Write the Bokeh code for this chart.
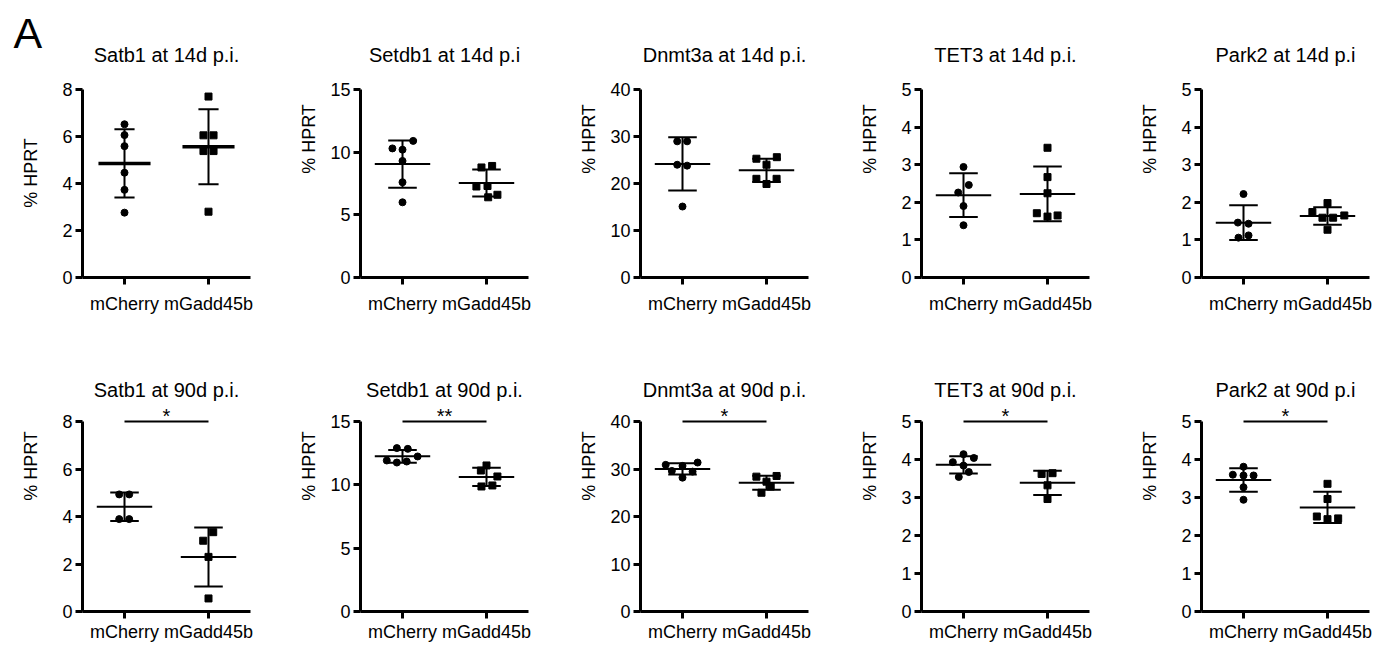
import numpy as np
from bokeh.plotting import figure
from bokeh.layouts import row, column
from bokeh.models import Range1d, FixedTicker, Label
from bokeh.embed import file_html
from bokeh.resources import INLINE

FONT = "Liberation Sans"

groups = ["mCherry", "mGadd45b"]

titles_14d = ["Satb1 at 14d p.i.", "Setdb1 at 14d p.i", "Dnmt3a at 14d p.i.", "TET3 at 14d p.i.", "Park2 at 14d p.i"]
titles_90d = ["Satb1 at 90d p.i.", "Setdb1 at 90d p.i.", "Dnmt3a at 90d p.i.", "TET3 at 90d p.i.", "Park2 at 90d p.i"]
y_max = [8, 15, 40, 5, 5]
y_step = [2, 5, 10, 1, 1]
stars_90d = ["*", "**", "*", "*", "*"]

# ---- 14 d p.i. (values, % HPRT) ----
satb1_14d_mcherry = [6.52, 6.06, 5.59, 4.46, 3.73, 2.76]
satb1_14d_gadd = [7.70, 6.05, 6.05, 5.38, 5.38, 2.80]
setdb1_14d_mcherry = [10.9, 10.3, 10.2, 9.3, 7.6, 6.0]
setdb1_14d_gadd = [8.78, 8.90, 7.26, 7.30, 6.40, 6.60]
dnmt3a_14d_mcherry = [28.97, 28.97, 23.99, 23.80, 15.10]
dnmt3a_14d_gadd = [25.27, 25.60, 24.00, 21.00, 21.00, 19.90]
tet3_14d_mcherry = [2.94, 2.46, 2.26, 1.90, 1.39]
tet3_14d_gadd = [3.45, 2.67, 2.24, 1.71, 1.62, 1.65]
park2_14d_mcherry = [2.22, 1.46, 1.43, 1.06, 1.12]
park2_14d_gadd = [1.98, 1.74, 1.59, 1.59, 1.65, 1.27]

# ---- 90 d p.i. (values, % HPRT) ----
satb1_90d_mcherry = [4.93, 4.93, 3.89, 3.89]
satb1_90d_gadd = [3.34, 2.98, 2.30, 0.55]
setdb1_90d_mcherry = [12.90, 12.84, 11.92, 11.76, 11.84, 12.24]
setdb1_90d_gadd = [11.53, 11.13, 10.66, 9.87, 9.95]
dnmt3a_90d_mcherry = [30.87, 30.65, 31.36, 29.60, 29.45, 28.18]
dnmt3a_90d_gadd = [28.39, 28.53, 27.33, 26.30, 25.00]
tet3_90d_mcherry = [4.14, 3.93, 4.04, 3.84, 3.67, 3.54]
tet3_90d_gadd = [3.62, 3.64, 3.32, 2.96]
park2_90d_mcherry = [3.81, 3.60, 3.58, 3.58, 3.27, 2.94]
park2_90d_gadd = [3.36, 2.96, 2.50, 2.43, 2.45]

# ---- horizontal scatter jitter (in group units) ----
satb1_14d_mcherry_dx = [0, 0, 0, 0, 0, 0]
satb1_14d_gadd_dx = [0, -0.06, 0.06, -0.06, 0.06, 0]
setdb1_14d_mcherry_dx = [0.127, -0.12, 0, 0, 0, 0]
setdb1_14d_gadd_dx = [-0.06, 0.067, -0.12, 0.012, 0.02, 0.13]
dnmt3a_14d_mcherry_dx = [-0.063, 0.055, -0.063, 0.055, 0]
dnmt3a_14d_gadd_dx = [-0.12, 0.123, 0, -0.12, 0.12, 0]
tet3_14d_mcherry_dx = [0, 0.063, -0.063, 0, 0]
tet3_14d_gadd_dx = [0, 0, 0, -0.127, 0, 0.12]
park2_14d_mcherry_dx = [0, -0.067, 0.06, -0.06, 0.06]
park2_14d_gadd_dx = [0, -0.18, -0.06, 0.067, 0.2, 0]

satb1_90d_mcherry_dx = [-0.063, 0.056, -0.063, 0.056]
satb1_90d_gadd_dx = [0.056, -0.063, 0, 0]
setdb1_90d_mcherry_dx = [-0.067, 0.063, -0.187, -0.067, 0.05, 0.18]
setdb1_90d_gadd_dx = [0, -0.067, 0.13, -0.06, 0.07]
dnmt3a_90d_mcherry_dx = [-0.2, 0, 0.18, -0.127, 0.12, 0]
dnmt3a_90d_gadd_dx = [-0.12, 0.12, 0, 0.05, -0.06]
tet3_90d_mcherry_dx = [0, -0.127, 0.123, 0, 0.063, -0.056]
tet3_90d_gadd_dx = [-0.07, 0.06, 0, 0]
park2_90d_mcherry_dx = [0, -0.127, 0, 0.12, 0, 0]
park2_90d_gadd_dx = [0, 0, -0.127, 0, 0.127]

data_14d = [
    (satb1_14d_mcherry, satb1_14d_mcherry_dx, satb1_14d_gadd, satb1_14d_gadd_dx),
    (setdb1_14d_mcherry, setdb1_14d_mcherry_dx, setdb1_14d_gadd, setdb1_14d_gadd_dx),
    (dnmt3a_14d_mcherry, dnmt3a_14d_mcherry_dx, dnmt3a_14d_gadd, dnmt3a_14d_gadd_dx),
    (tet3_14d_mcherry, tet3_14d_mcherry_dx, tet3_14d_gadd, tet3_14d_gadd_dx),
    (park2_14d_mcherry, park2_14d_mcherry_dx, park2_14d_gadd, park2_14d_gadd_dx),
]
data_90d = [
    (satb1_90d_mcherry, satb1_90d_mcherry_dx, satb1_90d_gadd, satb1_90d_gadd_dx),
    (setdb1_90d_mcherry, setdb1_90d_mcherry_dx, setdb1_90d_gadd, setdb1_90d_gadd_dx),
    (dnmt3a_90d_mcherry, dnmt3a_90d_mcherry_dx, dnmt3a_90d_gadd, dnmt3a_90d_gadd_dx),
    (tet3_90d_mcherry, tet3_90d_mcherry_dx, tet3_90d_gadd, tet3_90d_gadd_dx),
    (park2_90d_mcherry, park2_90d_mcherry_dx, park2_90d_gadd, park2_90d_gadd_dx),
]

# figure geometry per column: (width, min_border_left, min_border_right)
col_geom = [(282, 82, 32), (280, 78, 34), (281, 78, 35), (280, 78, 34), (253, 78, 7)]
HEAD_H = 68  # height of the strip holding the panel letter above the first panel


def make_panel(col, title, dataset, top_row, star=None, head=False):
    ymax, step = y_max[col], y_step[col]
    w, L, R = col_geom[col]
    if top_row:
        H, B, x_standoff, title_off, top_gap = 320, 43, 9, 35, 89
        if head:
            H, top_gap = 320 - HEAD_H, 89 - HEAD_H
    else:
        H, B, x_standoff, title_off, top_gap = 324, 33, 3, 32, 101
    FH = H - B
    y_end = ymax * FH / (FH - top_gap)
    p = figure(width=w, height=H, x_range=Range1d(-0.5, 1.5), y_range=Range1d(0, y_end),
               output_backend="svg", toolbar_location=None,
               min_border_left=L, min_border_right=R, min_border_top=0, min_border_bottom=B)
    p.outline_line_color = None
    p.grid.visible = False

    for ax in (p.xaxis[0], p.yaxis[0]):
        ax.axis_line_width = 3
        ax.axis_line_color = "black"
        ax.major_tick_line_width = 3
        ax.major_tick_line_color = "black"
        ax.major_tick_out = 7
        ax.major_tick_in = 0
        ax.minor_tick_line_color = None
        ax.major_label_text_font = FONT
        ax.major_label_text_color = "black"

    xa = p.xaxis[0]
    xa.ticker = FixedTicker(ticks=[0, 1])
    xa.major_label_overrides = {0: groups[0], 1: groups[1]}
    xa.major_label_text_font_size = "18px"
    xa.major_label_standoff = x_standoff

    ya = p.yaxis[0]
    ya.bounds = (0, ymax)
    ya.ticker = FixedTicker(ticks=list(range(0, ymax + 1, step)))
    ya.major_label_text_font_size = "18px"
    ya.major_label_standoff = 3
    ya.axis_label = "% HPRT"
    ya.axis_label_text_font = FONT
    ya.axis_label_text_font_size = "18px"
    ya.axis_label_text_font_style = "normal"
    ya.axis_label_text_color = "black"
    ya.axis_label_standoff = 18 if ymax < 10 else 8

    ctrl, ctrl_dx, gadd, gadd_dx = dataset
    first = (col == 0 and top_row)
    mean_w = 3.5 if first else 2
    cap = 0.12 if first else 0.17
    half = 0.31 if first else 0.33
    for i, (vals, dx, marker) in enumerate([(ctrl, ctrl_dx, "circle"), (gadd, gadd_dx, "square")]):
        v = np.array(vals, dtype=float)
        m = float(v.mean())
        s = float(v.std(ddof=1))
        p.segment(x0=[i], y0=[m - s], x1=[i], y1=[m + s], line_color="black", line_width=2)
        p.segment(x0=[i - cap, i - cap], y0=[m - s, m + s], x1=[i + cap, i + cap], y1=[m - s, m + s],
                  line_color="black", line_width=2)
        p.segment(x0=[i - half], y0=[m], x1=[i + half], y1=[m], line_color="black", line_width=mean_w)
        xs = [i + d for d in dx]
        p.scatter(x=xs, y=list(v), marker=marker, size=7, color="black")

    if not head:
        p.add_layout(Label(x=0.5, y=ymax, y_offset=title_off, text=title, text_align="center",
                           text_baseline="middle", text_font=FONT, text_font_size="20px",
                           text_color="black"))
    if star is not None:
        p.segment(x0=[0], y0=[ymax], x1=[1], y1=[ymax], line_color="black", line_width=2)
        p.add_layout(Label(x=0.5, y=ymax, y_offset=6, text=star, text_align="center",
                           text_baseline="middle", text_font=FONT, text_font_size="20px",
                           text_color="black"))
    return p


def make_head(title):
    w, L, R = col_geom[0]
    h = figure(width=w, height=HEAD_H, x_range=Range1d(0, 1), y_range=Range1d(0, 1),
               x_axis_type=None, y_axis_type=None, output_backend="svg", toolbar_location=None,
               min_border=0)
    h.frame_align = False
    h.outline_line_color = None
    h.add_layout(Label(x=0, y=0, x_offset=13, y_offset=HEAD_H - 32.5, text="A", text_align="left",
                       text_baseline="middle", text_font=FONT, text_font_size="43px",
                       text_color="black"))
    h.add_layout(Label(x=0, y=0, x_offset=L + 84, y_offset=HEAD_H - 54, text=title, text_align="center",
                       text_baseline="middle", text_font=FONT, text_font_size="20px",
                       text_color="black"))
    return h


top = [make_panel(c, titles_14d[c], data_14d[c], True, head=(c == 0)) for c in range(5)]
first_col = column(make_head(titles_14d[0]), top[0], spacing=0)
bottom = [make_panel(c, titles_90d[c], data_90d[c], False, stars_90d[c]) for c in range(5)]

layout = column(row(first_col, *top[1:], spacing=0), row(*bottom, spacing=0), spacing=0)

open("out.html", "w").write(file_html(layout, INLINE))
